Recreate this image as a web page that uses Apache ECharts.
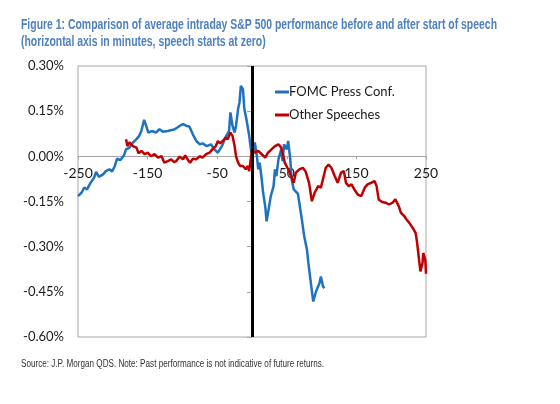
<!DOCTYPE html>
<html>
<head>
<meta charset="utf-8">
<script src="https://cdn.jsdelivr.net/npm/echarts@6/dist/echarts.min.js"></script>
<style>
html,body{margin:0;padding:0;background:#fff;}
#chart{width:560px;height:404px;}
</style>
</head>
<body>
<div id="chart"></div>
<script>
// Minutes relative to start of speech, and average S&P 500 move (%)
const fomcMinutes = [-250,-245,-241,-237,-232,-227,-224,-220,-214,-210,-205,-201,-197,-194,-189,-184,-181,-176,-171,-166,-162,-159,-155,-152,-149,-144,-138,-133,-128,-121,-114,-111,-104,-99,-94,-90,-85,-80,-75,-71,-65,-59,-54,-49,-47,-42,-37,-33,-31,-28,-25,-23,-20,-18,-16,-13,-11,-8,-6,-4,-1,2,4,7,9,11,14,16,19,21,23,27,31,33,35,38,42,44,46,50,52,55,57,60,66,71,75,79,81,84,88,92,97,99,102,104];
const fomcReturns = [-0.132,-0.121,-0.104,-0.110,-0.088,-0.071,-0.052,-0.068,-0.060,-0.049,-0.043,-0.050,-0.032,-0.008,-0.012,0.003,0.023,0.029,0.046,0.057,0.068,0.084,0.121,0.101,0.079,0.084,0.079,0.090,0.082,0.084,0.088,0.090,0.101,0.107,0.101,0.099,0.073,0.051,0.040,0.043,0.034,0.040,0.023,0.012,0.020,0.040,0.068,0.084,0.146,0.101,0.079,0.101,0.157,0.179,0.234,0.223,0.157,0.123,0.096,0.068,0.012,0.023,0.046,0.001,-0.043,-0.021,-0.077,-0.121,-0.166,-0.216,-0.188,-0.132,-0.099,-0.043,-0.066,-0.010,0.023,-0.016,0.040,0.023,0.051,-0.010,-0.077,-0.110,-0.125,-0.200,-0.265,-0.310,-0.354,-0.410,-0.482,-0.449,-0.421,-0.399,-0.432,-0.438];

const otherMinutes = [-181,-179,-176,-171,-166,-163,-159,-154,-150,-145,-140,-135,-130,-126,-121,-116,-112,-109,-104,-99,-96,-92,-89,-85,-80,-75,-71,-66,-61,-57,-52,-49,-46,-42,-38,-35,-31,-28,-25,-23,-20,-17,-13,-9,-6,-4,0,4,9,14,19,23,28,33,38,42,45,47,52,57,60,63,68,73,77,82,86,90,95,99,103,106,110,114,119,123,128,132,135,139,143,147,152,157,162,166,171,176,179,182,187,192,197,202,206,208,211,214,219,222,226,231,235,237,240,242,245,246,249,250];
const otherReturns = [0.057,0.034,0.046,0.034,0.029,0.010,0.018,0.007,0.012,0.001,0.007,-0.004,0.001,-0.021,-0.016,-0.010,-0.019,-0.016,-0.001,-0.010,0.003,-0.012,-0.021,-0.008,-0.010,0.001,-0.004,0.007,0.012,0.023,0.034,0.051,0.043,0.051,0.062,0.057,0.079,0.068,0.034,0.001,-0.021,-0.032,-0.032,-0.043,-0.032,-0.049,0.023,0.012,0.018,0.007,-0.004,0.012,0.023,0.034,0.040,0.029,0.001,-0.021,-0.043,-0.071,-0.088,-0.054,-0.043,-0.038,-0.050,-0.088,-0.149,-0.121,-0.099,-0.104,-0.066,-0.038,-0.027,-0.038,-0.066,-0.088,-0.054,-0.049,-0.088,-0.099,-0.093,-0.110,-0.127,-0.132,-0.104,-0.093,-0.088,-0.082,-0.099,-0.143,-0.152,-0.154,-0.160,-0.154,-0.143,-0.138,-0.166,-0.188,-0.199,-0.210,-0.221,-0.238,-0.254,-0.282,-0.343,-0.382,-0.354,-0.321,-0.343,-0.390];

const seriesNames = ['FOMC Press Conf.', 'Other Speeches'];
const xTicks = [-250, -150, -50, 50, 150, 250];
const yTicks = [-0.60, -0.45, -0.30, -0.15, 0.00, 0.15, 0.30];

const titleLines = ['Figure 1: Comparison of average intraday S&P 500 performance before and after start of speech',
                    '(horizontal axis in minutes, speech starts at zero)'];
const sourceText = 'Source: J.P. Morgan QDS. Note: Past performance is not indicative of future returns.';

const zip = (xs, ys) => xs.map((x, i) => [x, ys[i]]);

// narrow-font emulation: measure text and compute horizontal squeeze
const mctx = document.createElement('canvas').getContext('2d');
function textWidth(str, font) { mctx.font = font; return mctx.measureText(str).width; }
const titleFont = 'bold 14px "Liberation Sans", Arial, sans-serif';
const sourceFont = '10px "Liberation Sans", Arial, sans-serif';
const titleScale = 476 / textWidth(titleLines[0], titleFont);
const sourceScale = 303 / textWidth(sourceText, sourceFont);

const chart = echarts.init(document.getElementById('chart'), null, {renderer: 'canvas'});
const labelFont = 'Lato, "Open Sans", sans-serif';
const yMin = yTicks[0], yMax = yTicks[yTicks.length - 1], yStep = yTicks[1] - yTicks[0];
const xMin = xTicks[0], xMax = xTicks[xTicks.length - 1], xStep = xTicks[1] - xTicks[0];

const G = {left: 78, top: 66, width: 348, height: 271};
// offsets to place axes on the zero lines (layout only)
const xAxisOffset = -G.height * (0 - yMin) / (yMax - yMin);
const yTickAxisOffset = -G.width * (0 - xMin) / (xMax - xMin);

const pct = v => (Math.abs(v) < 1e-9 ? 0 : v).toFixed(2) + '%';

chart.setOption({
  animation: false,
  backgroundColor: '#ffffff',
  grid: {left: G.left, top: G.top, width: G.width, height: G.height, show: true, borderColor: '#a6a6a6', borderWidth: 1, backgroundColor: 'transparent'},
  graphic: [
    {type: 'text', x: 21, y: 17, scaleX: titleScale, style: {x: 0, y: 0, text: titleLines.join('\n'), font: titleFont, fill: '#4f81bd', lineHeight: 16.5}},
    {type: 'text', x: 21, y: 359, scaleX: sourceScale, style: {x: 0, y: 0, text: sourceText, font: sourceFont, fill: '#333333'}}
  ],
  legend: {
    orient: 'vertical', left: 275, top: 85, itemGap: 9, padding: 0,
    itemWidth: 14, itemHeight: 3, icon: 'rect',
    data: seriesNames,
    textStyle: {fontFamily: labelFont, fontSize: 13, color: '#1a1a1a', padding: [0, 0, 0, -5], lineHeight: 14}
  },
  xAxis: {
    type: 'value', min: xMin, max: xMax, interval: xStep, position: 'bottom', offset: xAxisOffset,
    axisLine: {onZero: false, lineStyle: {color: '#a6a6a6', width: 1}},
    axisTick: {show: true, length: 3, lineStyle: {color: '#a6a6a6'}},
    axisLabel: {fontFamily: labelFont, fontSize: 14, color: '#1a1a1a', margin: 10},
    splitLine: {show: false}
  },
  yAxis: [
    {
      type: 'value', min: yMin, max: yMax, interval: yStep,
      axisLine: {show: false, onZero: false},
      axisTick: {show: false},
      axisLabel: {fontFamily: labelFont, fontSize: 13, color: '#1a1a1a', margin: 14, formatter: pct},
      splitLine: {show: false}
    },
    {
      type: 'value', min: yMin, max: yMax, interval: yStep, position: 'left', offset: yTickAxisOffset,
      axisLine: {show: false, onZero: false},
      axisTick: {show: true, length: 5, lineStyle: {color: '#a6a6a6'}},
      axisLabel: {show: false},
      splitLine: {show: false}
    }
  ],
  series: [
    {name: seriesNames[0], type: 'line', data: zip(fomcMinutes, fomcReturns), showSymbol: false, symbol: 'none', color: '#1f72c0', lineStyle: {width: 2.5, color: '#1f72c0'}},
    {name: seriesNames[1], type: 'line', data: zip(otherMinutes, otherReturns), showSymbol: false, symbol: 'none', color: '#c00000', lineStyle: {width: 2.5, color: '#c00000'}},
    {type: 'line', data: [], z: 10, markLine: {silent: true, symbol: 'none', label: {show: false}, lineStyle: {color: '#000', width: 3, type: 'solid'}, data: [{xAxis: 0}]}}
  ]
});
</script>
</body>
</html>
